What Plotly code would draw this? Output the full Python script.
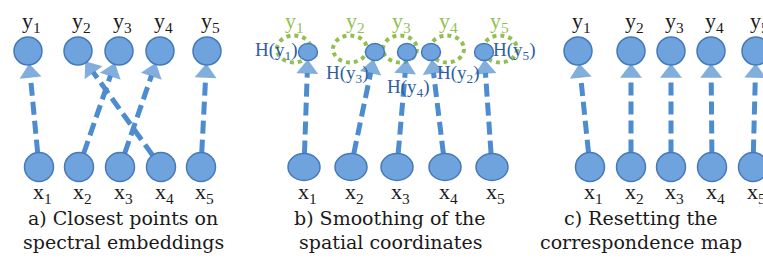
import plotly.graph_objects as go
import math

W, H = 763, 259
FONT = "Liberation Serif"
CAP_FONT = "DejaVu Serif"
BLUE_LINE = "#4d8ccf"
NODE_FILL = "#6fa3de"
NODE_EDGE = "#4579ba"
GREEN = "#93bf52"
HBLUE = "#2f5f9e"
TXT = "#1a1a1a"

# ---- panel a: closest points on spectral embeddings
a_y_x = [28, 78, 119, 160, 207]
a_x_x = [39, 79, 120, 161, 201]
a_map = [0, 2, 3, 1, 4]          # x_i -> y_map[i]
a_caption = ["a) Closest points on", "spectral embeddings"]
a_cap_x = 123

# ---- panel b: smoothing of the spatial coordinates
b_ylab_x = [291, 352, 398, 445, 496]
b_ell_x = [294, 350, 400, 447, 500]
b_h_x = [308, 375, 407, 431, 484]     # H(y) nodes, ordered by source x
b_h_lab = ["H(y<sub>1</sub>)", "H(y<sub>3</sub>)", "H(y<sub>4</sub>)", "H(y<sub>2</sub>)", "H(y<sub>5</sub>)"]
b_h_lab_x = [276, 347, 408, 458, 514]
b_h_lab_y = [51, 74, 88, 74, 51]
b_x_x = [304, 351, 397, 445, 492]
b_caption = ["b) Smoothing of the", "spatial coordinates"]
b_cap_x = 390

# ---- panel c: resetting the correspondence map
c_y_x = [578, 631, 671, 711, 756]
c_x_x = [590, 631, 671, 712, 753]
c_map = [0, 1, 2, 3, 4]
c_caption = ["c) Resetting the", "correspondence map"]
c_cap_x = 641

Y_TOP_LAB = 22
Y_NODE = 51
Y_XNODE = 167
Y_XLAB = 193
Y_CAP = [218, 242]

fig = go.Figure()
shapes = []
ann = []


def node(cx, cy, rx, ry):
    shapes.append(dict(type="circle", xref="x", yref="y", x0=cx - rx, x1=cx + rx,
                       y0=cy - ry, y1=cy + ry, fillcolor=NODE_FILL,
                       line=dict(color=NODE_EDGE, width=1.5), layer="above"))


def text(x, y, s, size, color=TXT, family=FONT):
    ann.append(dict(x=x, y=y, xref="x", yref="y", text=s, showarrow=False,
                    font=dict(family=family, size=size, color=color),
                    xanchor="center", yanchor="middle"))


def arrow(sx, sy, sr, tx, ty, tr):
    dx, dy = tx - sx, ty - sy
    L = math.hypot(dx, dy)
    ux, uy = dx / L, dy / L
    x0, y0 = sx + ux * sr, sy + uy * sr
    x1, y1 = tx - ux * (tr + 8), ty - uy * (tr + 8)
    xl, yl = tx - ux * (tr + 12), ty - uy * (tr + 12)
    fig.add_trace(go.Scatter(x=[x0, xl], y=[y0, yl], mode="lines",
                             line=dict(color=BLUE_LINE, width=5, dash="13px,6px"),
                             hoverinfo="skip", showlegend=False))
    xm, ym = tx - ux * (tr + 20), ty - uy * (tr + 20)
    fig.add_trace(go.Scatter(x=[xm, x1], y=[ym, y1], mode="markers",
                             marker=dict(symbol="triangle-up", size=[0, 19], color=BLUE_LINE,
                                         angleref="previous", line=dict(width=0)),
                             hoverinfo="skip", showlegend=False))


def caption(cx, lines):
    for yy, s in zip(Y_CAP, lines):
        text(cx, yy, s, 19, family=CAP_FONT)


# panel a
for i, px in enumerate(a_y_x):
    node(px, Y_NODE, 14, 14)
    text(px + 3, Y_TOP_LAB, f"y<sub>{i+1}</sub>", 22)
for i, px in enumerate(a_x_x):
    node(px, Y_XNODE, 14.5, 14.5)
    text(px + 3, Y_XLAB, f"x<sub>{i+1}</sub>", 22)
    j = a_map[i]
    arrow(px, Y_XNODE, 14.5, a_y_x[j], Y_NODE, 14)
caption(a_cap_x, a_caption)

# panel b
for i, px in enumerate(b_ell_x):
    shapes.append(dict(type="circle", xref="x", yref="y", x0=px - 17, x1=px + 17,
                       y0=Y_NODE - 2 - 13.5, y1=Y_NODE - 2 + 13.5,
                       line=dict(color=GREEN, width=4, dash="dot"), layer="below"))
    text(b_ylab_x[i] + 3, Y_TOP_LAB, f"y<sub>{i+1}</sub>", 22, GREEN)
for i, px in enumerate(b_h_x):
    node(px, Y_NODE + 1, 9.5, 8.5)
    text(b_h_lab_x[i], b_h_lab_y[i], b_h_lab[i], 19, HBLUE)
for i, px in enumerate(b_x_x):
    node(px, Y_XNODE, 16, 13.5)
    text(px + 3, Y_XLAB, f"x<sub>{i+1}</sub>", 22)
    arrow(px, Y_XNODE, 13.5, b_h_x[i], Y_NODE + 1, 9)
caption(b_cap_x, b_caption)

# panel c
for i, px in enumerate(c_y_x):
    node(px, Y_NODE, 14, 14)
    text(px + 3, Y_TOP_LAB, f"y<sub>{i+1}</sub>", 22)
for i, px in enumerate(c_x_x):
    node(px, Y_XNODE, 14.5, 14.5)
    text(px + 3, Y_XLAB, f"x<sub>{i+1}</sub>", 22)
    j = c_map[i]
    arrow(px, Y_XNODE, 14.5, c_y_x[j], Y_NODE, 14)
caption(c_cap_x, c_caption)

fig.update_layout(
    width=W, height=H, margin=dict(l=0, r=0, t=0, b=0),
    paper_bgcolor="white", plot_bgcolor="white",
    xaxis=dict(range=[0, W], visible=False, fixedrange=True),
    yaxis=dict(range=[H, 0], visible=False, fixedrange=True),
    shapes=shapes, annotations=ann, showlegend=False,
)
fig.write_html("out.html", config={"displayModeBar": False},
               post_script="document.body.style.margin='0';document.body.style.padding='0';")
